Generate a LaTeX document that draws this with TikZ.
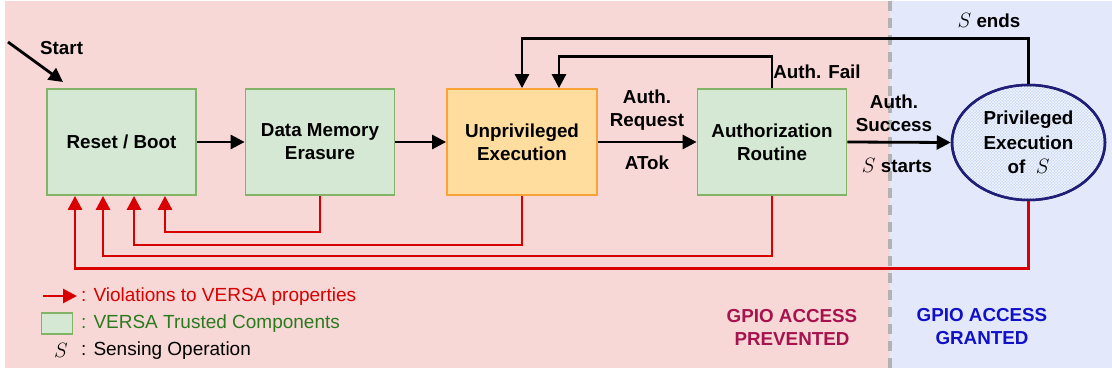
\documentclass[tikz,border=0pt]{standalone}
\usepackage{fontspec}
\setmainfont{Liberation Sans}
\usetikzlibrary{arrows.meta,patterns,shapes.geometric}
\definecolor{pinkbg}{HTML}{F8D8D7}
\definecolor{bluebg}{HTML}{E3E9FB}
\definecolor{gfill}{HTML}{D5E8D4}
\definecolor{gline}{HTML}{82B366}
\definecolor{ofill}{HTML}{FFDD9E}
\definecolor{oline}{HTML}{F7A336}
\definecolor{efill}{HTML}{C8D8F6}
\definecolor{eline}{HTML}{1F1F78}
\definecolor{redl}{HTML}{D80000}
\definecolor{greent}{HTML}{2A7A1E}
\definecolor{prevc}{HTML}{A6134F}
\definecolor{grantc}{HTML}{1010C8}
\tikzset{
  txt/.style={font=\fontsize{18.8}{23}\selectfont\bfseries, align=center, inner sep=0pt},
  gbox/.style={draw=gline, fill=gfill, line width=1.8pt, minimum width=149pt, minimum height=106pt, txt},
  obox/.style={draw=oline, fill=ofill, line width=1.8pt, minimum width=150pt, minimum height=106pt, txt},
  arr/.style={draw=black, line width=2.8pt, -{Triangle[length=14pt,width=14pt]}},
  rarr/.style={draw=redl, line width=2.8pt, -{Triangle[length=14pt,width=14pt]}},
  lbl/.style={txt},
  legt/.style={font=\fontsize{19}{22}\selectfont, anchor=west, inner sep=0pt},
}
\begin{document}
\begin{tikzpicture}[x=1pt,y=-1pt]
\useasboundingbox (0,0) rectangle (1112,372);
\fill[white] (0,0) rectangle (1112,372);
\fill[pinkbg] (5,1) rectangle (890,368);
\fill[bluebg] (890,1) rectangle (1112,368);
\draw[gray!60, line width=3.2pt, dash pattern=on 10pt off 7pt] (890,1) -- (890,368);

% boxes
\node[gbox] (reset) at (121.5,142) {Reset / Boot};
\node[gbox] (data) at (320,142) {Data Memory\\Erasure};
\node[obox] (unpriv) at (522,142) {Unprivileged\\Execution};
\node[gbox] (auth) at (772,142) {Authorization\\Routine};
\node[ellipse, draw=eline, line width=2.5pt, fill=efill, minimum width=153pt, minimum height=115pt] (priv) at (1028.5,142.5) {};
\fill[pattern=crosshatch, pattern color=white!80!efill] (priv.center) ellipse [x radius=75pt, y radius=56.5pt];
\draw[eline, line width=2.5pt] (priv.center) ellipse [x radius=76.5pt, y radius=57.5pt];
\node[txt, font=\fontsize{18.8}{24.5}\selectfont\bfseries] at (priv.center) {Privileged\\Execution\\of\ \ {\fontsize{22}{24}\selectfont$S$}};

% start
\coordinate (st0) at (8,42);
\coordinate (st1) at (63,82);
\draw[arr] (st0) -- (st1);
\node[lbl, anchor=west] (startl) at (40,48) {Start};

% main flow
\draw[arr] (reset) -- (data);
\draw[arr] (data) -- (unpriv);
\draw[arr] (unpriv) -- (auth);
\draw[arr] (auth.east) -- (priv.west);

\node[lbl] (areq) at (647,110) {Auth.\\Request};
\node[lbl] (atok) at (647,163) {ATok};
\node[lbl] (asucc) at (894,113) {Auth.\\Success};
\node[lbl] (sst) at (897,166) {{\fontsize{22}{24}\selectfont$S$}\ starts};

% feedback loops
\draw[arr] (auth.north) -- ++(0,-32) -| ([xshift=37pt]unpriv.north);
\draw[arr] (priv.north) -- ++(0,-45) -| (unpriv.north);
\node[lbl] (afail) at (817,72) {Auth. Fail};
\node[lbl] (send) at (989,21) {{\fontsize{22}{24}\selectfont$S$}\ ends};

% violations
\draw[rarr] (data.south) -- ++(0,36) -| ([xshift=43.5pt]reset.south);
\draw[rarr] (unpriv.south) -- ++(0,49) -| ([xshift=12.5pt]reset.south);
\draw[rarr] (auth.south) -- ++(0,60) -| ([xshift=-18.5pt]reset.south);
\draw[rarr] (priv.south) -- ++(0,67) -| ([xshift=-46.5pt]reset.south);

% legend
\coordinate (la0) at (43,296);
\coordinate (la1) at (77,296);
\draw[rarr] (la0) -- (la1);
\node[legt, text=redl] (l1) at (81,297) {: Violations to VERSA properties};
\node[draw=gline, fill=gfill, line width=1.8pt, minimum width=31pt, minimum height=21pt, inner sep=0pt] (lbox) at (57,323.5) {};
\node[legt, text=greent] (l2) at (81,324) {: VERSA Trusted Components};
\node[inner sep=0pt] (ls) at (61,350) {\fontsize{22}{24}\selectfont$S$};
\node[legt] (l3) at (81,351) {: Sensing Operation};

% regions
\node[txt, text=prevc] (prev) at (792,327) {GPIO ACCESS\\PREVENTED};
\node[txt, text=grantc] (grant) at (982,327) {GPIO ACCESS\\GRANTED};
\end{tikzpicture}
\end{document}
